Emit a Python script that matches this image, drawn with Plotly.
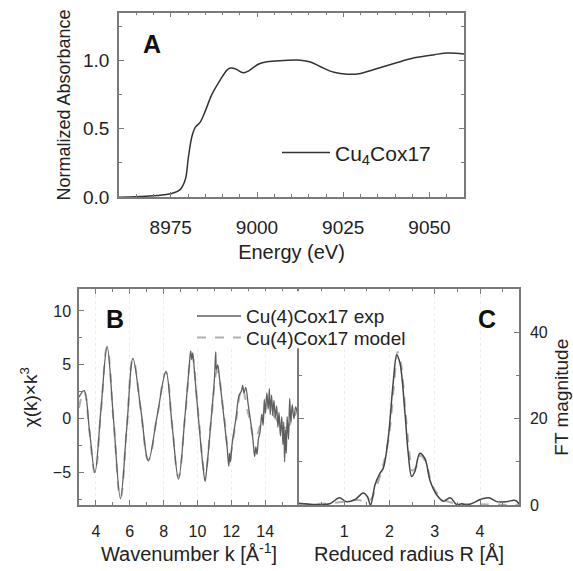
import plotly.graph_objects as go

# ---------------- Panel A : XANES ----------------
energy_eV = [8960, 8965, 8970, 8973, 8975.2, 8977.7, 8979.2, 8980.1, 8981.1, 8982.1, 8983.5,
             8985, 8986.9, 8989.4, 8991.3, 8992.3, 8993.7, 8996, 8997.6, 9000.5, 9002.9,
             9007.8, 9012.6, 9015.5, 9018.4, 9022.3, 9026.2, 9030, 9033.9, 9039.7, 9045.6,
             9051.4, 9055.3, 9060]
absorb = [0.0, 0.003, 0.01, 0.018, 0.026, 0.055, 0.127, 0.29, 0.44, 0.51, 0.547,
          0.63, 0.75, 0.86, 0.93, 0.945, 0.94, 0.91, 0.925, 0.975, 0.992,
          1.0, 1.003, 0.99, 0.955, 0.914, 0.9, 0.906, 0.935, 0.978, 1.02,
          1.043, 1.055, 1.048]

# ---------------- Panel B : EXAFS k^3 chi ----------------
k_model = [3.0, 3.3, 3.62, 3.94, 4.3, 4.66, 5.05, 5.45, 5.82, 6.19, 6.65, 7.1, 7.62, 8.14,
           8.5, 8.88, 9.27, 9.66, 10.05, 10.45, 10.8, 11.17, 11.55, 11.9, 12.27, 12.63,
           13.0, 13.4, 13.75, 14.1, 14.6, 15.17, 15.9]
chi_model = [1.0, 2.5, -1.2, -5.0, 0.8, 6.6, -0.35, -7.3, -0.9, 5.5, 0.85, -3.8, 0.25, 4.3,
             -0.55, -5.4, 0.25, 5.9, 0.45, -5.0, -0.3, 4.4, 0.55, -3.3, -0.25, 2.8,
             0.5, -1.8, -0.4, 1.0, 0.07, -0.85, 0.8]

k_exp = [3.0, 3.3, 3.62, 3.94, 4.3, 4.66, 5.05, 5.45, 5.82, 6.19, 6.65, 7.1, 7.62, 8.14, 8.5,
         8.88, 9.27, 9.5, 9.6, 9.66, 9.72, 9.8, 10.05, 10.3, 10.45, 10.55, 10.8, 11.0, 11.08,
         11.12, 11.2, 11.3, 11.55, 11.75, 11.85, 11.9, 11.95, 12.05, 12.27, 12.45, 12.6, 12.67,
         12.75, 12.85, 13.0, 13.1, 13.2, 13.3, 13.38, 13.45, 13.52, 13.6, 13.7, 13.8, 13.88,
         13.95, 14.02, 14.1, 14.18, 14.25, 14.3, 14.38, 14.45, 14.52, 14.6, 14.68, 14.75,
         14.82, 14.9, 14.98, 15.05, 15.1, 15.15, 15.2, 15.25, 15.3, 15.38, 15.45, 15.52,
         15.6, 15.7, 15.8, 15.9]
chi_exp = [2.0, 2.6, -1.1, -5.0, 0.9, 6.7, -0.3, -7.4, -0.9, 5.6, 0.9, -3.9, 0.3, 4.4, -0.6,
           -5.6, 0.4, 4.6, 6.3, 5.5, 6.1, 4.8, 0.2, -4.0, -5.8, -4.6, -0.2, 3.6, 6.2,
           4.5, 5.0, 3.8, 0.3, -2.6, -4.4, -3.2, -4.0, -2.3, 0.0, 2.1, 2.6, 3.1,
           2.4, 2.9, 1.3, 0.2, -0.9, -2.3, -3.5, -2.6, -3.3, -1.9, -1.2, 0.4, -0.6,
           1.8, 0.5, 2.4, 0.9, 2.8, 0.4, 2.2, 0.3, 1.7, 0.1, 1.2, -0.8,
           0.6, -1.6, 0.2, -2.4, -0.3, -4.0, -1.0, -3.2, 0.2, -1.9, 1.9, -0.4,
           1.3, 0.0, 1.1, 0.6]

# ---------------- Panel C : Fourier transform ----------------
r_exp = [0.0, 0.31, 0.68, 0.89, 1.05, 1.24, 1.42, 1.51, 1.58, 1.68, 1.79, 1.86, 1.97, 2.08,
         2.16, 2.23, 2.34, 2.41, 2.49, 2.56, 2.67, 2.78, 2.9, 3.04, 3.19, 3.34, 3.48, 3.6,
         3.7, 3.85, 4.0, 4.19, 4.37, 4.59, 4.77, 4.86]
ft_exp = [0.4, 0.15, 0.3, 1.7, 0.76, 1.3, 2.8, 2.0, 0.0, 4.7, 7.4, 8.5, 15.4, 28.3,
          34.8, 32.9, 21.5, 12.3, 6.6, 7.8, 12.0, 10.8, 5.5, 2.4, 0.9, 1.7, 0.15, 0.3,
          0.0, 0.5, 1.3, 1.7, 0.8, 0.8, 1.1, 0.3]
r_model = [0.0, 0.5, 1.0, 1.3, 1.5, 1.6, 1.7, 1.8, 1.9, 2.0, 2.1, 2.18, 2.25, 2.35, 2.45,
           2.5, 2.6, 2.68, 2.8, 2.9, 3.0, 3.2, 3.4, 3.6, 4.0, 4.5, 4.86]
ft_model = [0.2, 0.3, 0.8, 1.2, 0.8, 1.5, 4.0, 7.0, 11.0, 17.0, 28.0, 35.5, 33.0, 22.0, 11.0,
            8.0, 9.0, 11.5, 10.0, 6.0, 3.5, 1.2, 0.5, 0.3, 0.2, 0.1, 0.1]

W, H = 573, 571
FONT = "Liberation Sans, Arial, sans-serif"
AX = "#7a7a7a"

def px_x(a, b):
    return [a / W, b / W]

def px_y(top, bottom):
    return [1 - bottom / H, 1 - top / H]

fig = go.Figure()

fig.add_trace(go.Scatter(x=energy_eV, y=absorb, mode="lines", line=dict(color="#333333", width=1.5, shape="spline"),
                         name="Cu<sub>4</sub>Cox17", xaxis="x", yaxis="y", legend="legend"))

fig.add_trace(go.Scatter(x=k_model, y=chi_model, mode="lines",
                         line=dict(color="#b0b0b0", width=2, dash="dash", shape="spline", smoothing=1.3),
                         name="Cu(4)Cox17 model", xaxis="x2", yaxis="y2", legend="legend3"))
fig.add_trace(go.Scatter(x=k_exp, y=chi_exp, mode="lines",
                         line=dict(color="#5f5f5f", width=1.3, shape="spline", smoothing=1.0),
                         name="Cu(4)Cox17 exp", xaxis="x2", yaxis="y2", legend="legend2"))

fig.add_trace(go.Scatter(x=r_model, y=ft_model, mode="lines",
                         line=dict(color="#b0b0b0", width=2, dash="dash", shape="spline"),
                         showlegend=False, xaxis="x3", yaxis="y3"))
fig.add_trace(go.Scatter(x=r_exp, y=ft_exp, mode="lines",
                         line=dict(color="#444444", width=1.5, shape="spline"),
                         showlegend=False, xaxis="x3", yaxis="y3"))

common = dict(showline=True, linecolor=AX, linewidth=1.5, mirror="ticks", ticks="inside",
              tickcolor=AX, ticklen=5, tickwidth=1, zeroline=False,
              tickfont=dict(family=FONT, size=19, color="#222"))

fig.update_layout(
    width=W, height=H, margin=dict(l=0, r=0, t=0, b=0),
    paper_bgcolor="white", plot_bgcolor="white",
    font=dict(family=FONT, color="#222"),
    xaxis=dict(domain=px_x(119, 464), anchor="y", range=[8960, 9060], tickvals=[8975, 9000, 9025, 9050],
               minor=dict(dtick=5, tick0=8960, ticks="inside", ticklen=3, tickcolor=AX),
               showgrid=False, ticklabelstandoff=12,
               title=dict(text="Energy (eV)", font=dict(family=FONT, size=20), standoff=8), **common),
    yaxis=dict(domain=px_y(13, 201), anchor="x", range=[0, 1.35], tickvals=[0, 0.5, 1.0],
               ticktext=["0.0", "0.5", "1.0"],
               minor=dict(dtick=0.25, tick0=0, ticks="inside", ticklen=3, tickcolor=AX),
               showgrid=False, ticklabelstandoff=4,
               title=dict(text="Normalized Absorbance", font=dict(family=FONT, size=18), standoff=8), **common),
)

common2 = dict(common)
common2["tickfont"] = dict(family=FONT, size=16, color="#222")

fig.update_layout(
    xaxis2=dict(domain=px_x(79, 299), anchor="y2", range=[3, 16], tickvals=[4, 6, 8, 10, 12, 14],
                minor=dict(dtick=1, tick0=0, ticks="inside", ticklen=3, tickcolor=AX, showgrid=False),
                showgrid=True, gridcolor="#ececec", gridwidth=1, griddash="dot", ticklabelstandoff=11,
                title=dict(text="Wavenumber k [Å<sup>-1</sup>]", font=dict(family=FONT, size=20), standoff=8),
                **common2),
    yaxis2=dict(domain=px_y(295, 515), anchor="x2", range=[-8, 12], dtick=5, tick0=0,
                minor=dict(dtick=2.5, ticks="inside", ticklen=3, tickcolor=AX),
                showgrid=False, ticklabelstandoff=3,
                title=dict(text="χ(k)×k<sup>3</sup>", font=dict(family=FONT, size=19), standoff=10),
                **{**common2, "mirror": False}),
    xaxis3=dict(domain=px_x(299, 519), anchor="y3", range=[0, 4.86], tickvals=[1, 2, 3, 4],
                minor=dict(dtick=0.5, tick0=0, ticks="inside", ticklen=3, tickcolor=AX, showgrid=False),
                showgrid=True, gridcolor="#ececec", gridwidth=1, griddash="dot", ticklabelstandoff=11,
                title=dict(text="Reduced radius R [Å]", font=dict(family=FONT, size=20), standoff=8),
                **common2),
    yaxis3=dict(domain=px_y(295, 515), anchor="x3", side="right", range=[0, 50], dtick=20, tick0=0,
                minor=dict(dtick=10, ticks="inside", ticklen=3, tickcolor=AX),
                showgrid=False, ticklabelstandoff=6,
                title=dict(text="FT magnitude", font=dict(family=FONT, size=19), standoff=8),
                **common2),
    legend=dict(x=277 / W, y=1 - 135 / H, xanchor="left", yanchor="top", bgcolor="rgba(0,0,0,0)",
                font=dict(family=FONT, size=21, color="#222"), itemwidth=48),
    legend2=dict(x=192 / W, y=1 - 303 / H, xanchor="left", yanchor="top", bgcolor="rgba(0,0,0,0)",
                 font=dict(family=FONT, size=19, color="#222"), itemwidth=44),
    legend3=dict(x=192 / W, y=1 - 325 / H, xanchor="left", yanchor="top", bgcolor="rgba(0,0,0,0)",
                 font=dict(family=FONT, size=19, color="#222"), itemwidth=44),
)

# white legend box of panels B/C, hiding the shared spine behind it
fig.add_shape(type="rect", xref="paper", yref="paper", layer="above",
              x0=186 / W, x1=416 / W, y0=1 - 355 / H, y1=1 - 297 / H,
              fillcolor="white", line=dict(width=0))

letters = [("A", 152, 45), ("B", 115, 325), ("C", 487, 325)]
for txt, cx, cy in letters:
    fig.add_annotation(text=f"<b>{txt}</b>", x=cx / W, y=1 - cy / H, xref="paper", yref="paper",
                       showarrow=False, font=dict(family=FONT, size=25, color="#111"),
                       xanchor="center", yanchor="middle")

fig.write_html("out.html")
